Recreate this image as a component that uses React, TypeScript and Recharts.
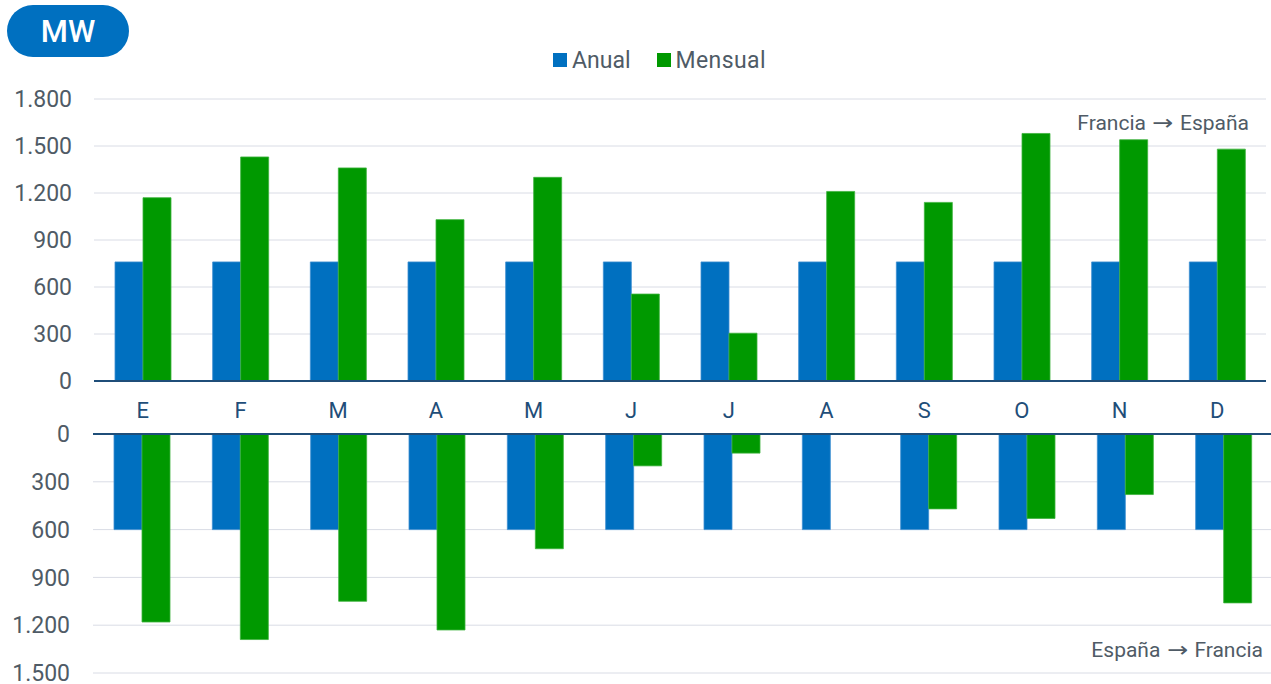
import React from "react";
import { BarChart, Bar, XAxis, YAxis, CartesianGrid, ReferenceLine } from "recharts";

const months = ["E", "F", "M", "A", "M", "J", "J", "A", "S", "O", "N", "D"];
const anualFraEsp = [760, 760, 760, 760, 760, 760, 760, 760, 760, 760, 760, 760];
const mensualFraEsp = [1170, 1430, 1360, 1030, 1300, 555, 305, 1210, 1140, 1580, 1540, 1480];
const anualEspFra = [600, 600, 600, 600, 600, 600, 600, 600, 600, 600, 600, 600];
const mensualEspFra = [1180, 1290, 1050, 1230, 720, 200, 120, 0, 470, 530, 380, 1060];
const topTicks = [0, 300, 600, 900, 1200, 1500, 1800];
const bottomTicks = [0, 300, 600, 900, 1200, 1500];

const BLUE = "#0070C0";
const GREEN = "#009900";
const NAVY = "#1F4E79";
const GREY = "#4F5B66";
const GRID = "#D9DCE5";
const FONT = "Roboto, 'Noto Sans', sans-serif";

const topData = months.map((m, i) => ({ m, anual: anualFraEsp[i], mensual: mensualFraEsp[i] }));
const bottomData = months.map((m, i) => ({ m, anual: anualEspFra[i], mensual: mensualEspFra[i] }));

const fmt = (v: number) => v.toLocaleString("de-DE");

const Arrow = () => (
  <span
    style={{
      fontFamily: "'DejaVu Sans', sans-serif",
      display: "inline-block",
      transform: "scaleX(1.2)",
      margin: "0 3px",
    }}
  >
    →
  </span>
);

export default function App() {
  return (
    <div
      style={{
        position: "absolute",
        left: 0,
        top: 0,
        width: 1271,
        height: 684,
        overflow: "hidden",
        background: "#fff",
        fontFamily: FONT,
      }}
    >
      {/* MW badge */}
      <div
        style={{
          position: "absolute",
          left: 7,
          top: 5,
          width: 122,
          height: 52,
          borderRadius: 26,
          background: BLUE,
          color: "#fff",
          fontSize: 31,
          fontWeight: 500,
          display: "flex",
          alignItems: "center",
          justifyContent: "center",
          lineHeight: 1,
        }}
      >
        MW
      </div>

      {/* Legend */}
      <div
        style={{
          position: "absolute",
          left: 553,
          top: 46,
          height: 28,
          display: "flex",
          alignItems: "center",
          fontSize: 23,
          color: GREY,
          lineHeight: 1,
        }}
      >
        <span style={{ width: 14, height: 14, background: BLUE, display: "inline-block", marginRight: 5 }} />
        <span>Anual</span>
        <span style={{ width: 14, height: 14, background: GREEN, display: "inline-block", marginLeft: 26, marginRight: 5 }} />
        <span style={{ letterSpacing: 0.4 }}>Mensual</span>
      </div>

      {/* Top chart: Francia -> España */}
      <div style={{ position: "absolute", left: 0, top: 0 }}>
        <BarChart
          width={1271}
          height={426}
          data={topData}
          margin={{ top: 99, right: 5, bottom: 0, left: 0 }}
          barSize={28}
          barGap={0}
        >
          <CartesianGrid vertical={false} stroke={GRID} strokeWidth={1} />
          <XAxis
            dataKey="m"
            height={45}
            axisLine={{ stroke: NAVY, strokeWidth: 2 }}
            tickLine={false}
            tickSize={0}
            tickMargin={21}
            tick={{ fill: NAVY, fontSize: 22, fontFamily: FONT }}
            interval={0}
          />
          <YAxis
            width={94}
            domain={[0, 1800]}
            ticks={topTicks}
            axisLine={false}
            tickLine={false}
            tickSize={0}
            tickMargin={22}
            tickFormatter={fmt}
            tick={{ fill: GREY, fontSize: 23, fontFamily: FONT }}
            interval={0}
          />
          <Bar dataKey="anual" fill={BLUE} stroke="#3E8ED0" strokeWidth={0.8} isAnimationActive={false} />
          <Bar dataKey="mensual" fill={GREEN} stroke="#3DB33D" strokeWidth={0.8} isAnimationActive={false} />
        </BarChart>
      </div>

      {/* Bottom chart: España -> Francia */}
      <div style={{ position: "absolute", left: 0, top: 411 }}>
        <BarChart
          width={1273}
          height={273}
          data={bottomData}
          margin={{ top: 23, right: 0, bottom: 11, left: 0 }}
          barSize={28}
          barGap={0}
        >
          <CartesianGrid vertical={false} stroke={GRID} strokeWidth={1} />
          <XAxis dataKey="m" hide />
          <YAxis
            width={93}
            reversed
            domain={[0, 1500]}
            ticks={bottomTicks}
            axisLine={false}
            tickLine={false}
            tickSize={0}
            tickMargin={23}
            tickFormatter={fmt}
            tick={{ fill: GREY, fontSize: 23, fontFamily: FONT }}
            interval={0}
          />
          <Bar dataKey="anual" fill={BLUE} stroke="#3E8ED0" strokeWidth={0.8} isAnimationActive={false} />
          <Bar dataKey="mensual" fill={GREEN} stroke="#3DB33D" strokeWidth={0.8} isAnimationActive={false} />
          <ReferenceLine y={0} stroke={NAVY} strokeWidth={2} />
        </BarChart>
      </div>

      {/* Direction labels */}
      <div
        style={{
          position: "absolute",
          right: 22,
          top: 113,
          fontSize: 21,
          color: GREY,
          lineHeight: 1,
          whiteSpace: "nowrap",
        }}
      >
        Francia <Arrow /> España
      </div>
      <div
        style={{
          position: "absolute",
          right: 8,
          top: 640,
          fontSize: 21,
          color: GREY,
          lineHeight: 1,
          whiteSpace: "nowrap",
        }}
      >
        España <Arrow /> Francia
      </div>
    </div>
  );
}
